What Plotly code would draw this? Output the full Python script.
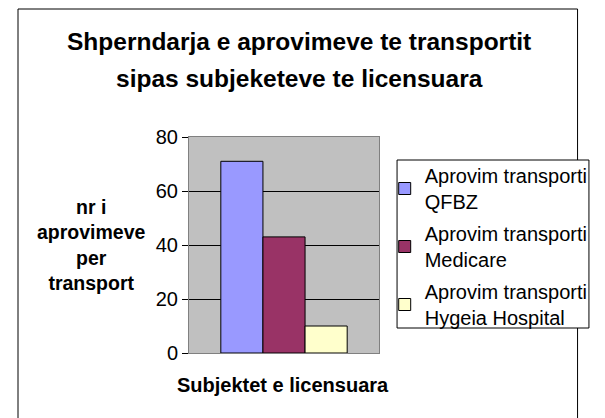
import plotly.graph_objects as go

# Data
series_names = [
    "Aprovim transporti<br>QFBZ",
    "Aprovim transporti<br>Medicare",
    "Aprovim transporti<br>Hygeia Hospital",
]
series_values = [71, 43, 10]
series_colors = ["#9999FF", "#993366", "#FFFFCC"]
category = ["Subjektet e licensuara"]

FONT = "Liberation Sans, Arial, sans-serif"

# figure size / plot area in pixels
W, H = 605, 418
L, R, T, B = 189, 389, 137, 353
pw, ph = R - L, B - T


def px(x):
    return (x - L) / pw


def py(y):
    return (B - y) / ph


fig = go.Figure()
for name, val, col in zip(series_names, series_values, series_colors):
    fig.add_trace(go.Bar(
        x=category, y=[val], name=name,
        marker=dict(color=col, line=dict(color="black", width=1)),
        legendgroup=name,
    ))

fig.update_layout(
    width=W, height=H,
    margin=dict(l=L, r=W - R, t=T, b=H - B),
    paper_bgcolor="white",
    plot_bgcolor="#C0C0C0",
    barmode="group",
    bargap=0.335,
    bargroupgap=0,
    font=dict(family=FONT, size=20, color="black"),
    showlegend=True,
    legend=dict(
        x=px(395), y=py(156), xanchor="left", yanchor="top",
        borderwidth=0, bgcolor="rgba(0,0,0,0)",
        font=dict(size=20), tracegroupgap=3, itemwidth=30,
    ),
    xaxis=dict(showticklabels=False, showgrid=False, zeroline=False,
               showline=True, linecolor="#808080", mirror=True, ticks=""),
    yaxis=dict(range=[0, 80], dtick=20, showgrid=True, gridcolor="black",
               gridwidth=1, zeroline=False, showline=True, linecolor="#808080",
               mirror=True, ticks="outside", ticklen=6, tickcolor="black",
               tickfont=dict(size=20)),
    shapes=[
        # chart border
        dict(type="rect", xref="paper", yref="paper",
             x0=px(9), x1=px(598), y0=py(440), y1=py(9),
             line=dict(color="black", width=1), fillcolor="rgba(0,0,0,0)",
             layer="below"),
        # legend box
        dict(type="rect", xref="paper", yref="paper",
             x0=px(408), x1=px(610), y0=py(328), y1=py(160),
             line=dict(color="black", width=1), fillcolor="white",
             layer="below"),
    ],
    annotations=[
        dict(text="<b>Shperndarja e aprovimeve te transportit</b>",
             x=px(305), y=py(42), xref="paper", yref="paper",
             showarrow=False, font=dict(size=24.5), xanchor="center", yanchor="middle"),
        dict(text="<b>sipas subjeketeve te licensuara</b>",
             x=px(305), y=py(79), xref="paper", yref="paper",
             showarrow=False, font=dict(size=24.5), xanchor="center", yanchor="middle"),
        dict(text="<b>nr i<br>aprovimeve<br>per<br>transport</b>",
             x=px(86), y=py(245), xref="paper", yref="paper",
             showarrow=False, font=dict(size=19.5), xanchor="center", yanchor="middle"),
        dict(text="<b>" + category[0] + "</b>",
             x=px(288), y=py(385), xref="paper", yref="paper",
             showarrow=False, font=dict(size=20), xanchor="center", yanchor="middle"),
    ],
)

# drop the page's default body margin so the figure fills the window
fig.write_html(
    "out.html",
    config={"displayModeBar": False},
    post_script="document.body.style.margin='0';document.body.style.overflow='hidden';",
)
